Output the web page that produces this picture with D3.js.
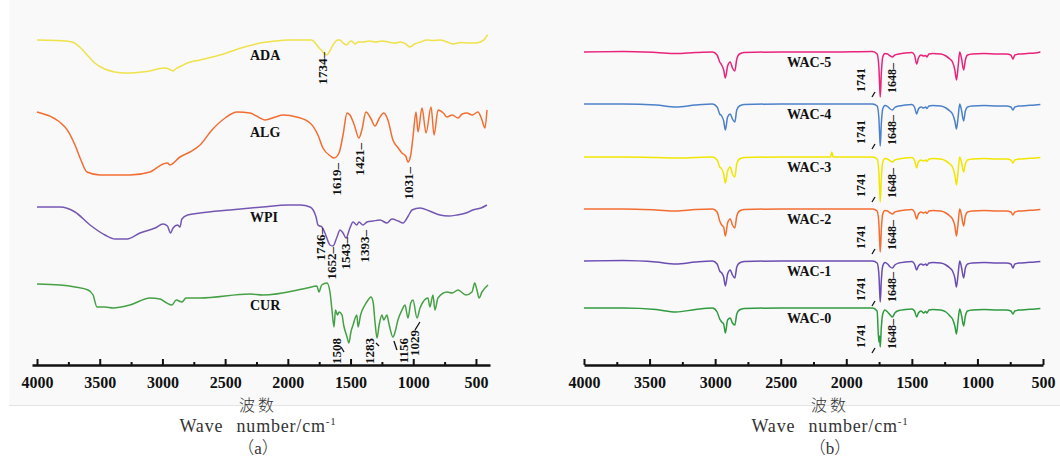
<!DOCTYPE html>
<html>
<head>
<meta charset="utf-8">
<script src="https://cdn.jsdelivr.net/npm/d3@7"></script>
<style>
  body { margin: 0; background: #fff; }
  text { font-family: "Liberation Serif", "Times New Roman", serif; }
  .lbl { font-weight: bold; fill: #111; }
  .tick text { font-weight: bold; fill: #111; }
</style>
</head>
<body>
<div id="chart"></div>
<script>
// Canvas size
let svgWidth = 1060;
let svgHeight = 462;

// ---------- DATA ----------
// panel (a): [wavenumber, transmittance (a.u., offset stacked)]
let adaData = [[4000,325],[3850,324.5],[3720,323],[3660,318],[3600,310],[3540,302],[3460,296],[3380,293],[3300,292],[3200,292.5],[3100,294],[3020,296.5],[2980,297],[2940,295.5],[2915,294],[2890,296.5],[2850,299],[2800,302],[2700,305],[2600,308],[2500,311.5],[2400,316],[2300,319.5],[2200,322.5],[2100,324],[2000,325],[1900,325],[1810,325],[1775,321],[1750,317],[1734,315],[1715,312],[1690,310],[1665,314],[1640,320],[1600,325],[1584,325],[1560,322],[1531,320],[1510,323],[1491,324],[1465,321],[1440,323],[1400,323],[1350,324],[1300,323],[1250,324],[1200,323],[1146,322],[1100,323],[1060,321],[1026,318],[990,321],[940,323],[893,325],[840,324.5],[787,325],[730,323],[683,321],[620,322.5],[560,322],[500,322],[468,323],[430,326],[415,329],[405,330]];

let algData = [[4000,253],[3777,238],[3697,220],[3650,205],[3601,193],[3498,190],[3259,190],[3099,193],[2995,201],[2960,202],[2940,200],[2860,208],[2780,213],[2700,220],[2605,235],[2500,247],[2405,253],[2302,252],[2250,249],[2182,245],[2100,248],[2039,250],[1930,248],[1823,242],[1760,230],[1720,217],[1660,209],[1632,207],[1592,212],[1560,230],[1528,252],[1505,250],[1470,240],[1433,227],[1410,235],[1377,253],[1340,247],[1305,239],[1270,247],[1234,252],[1202,245],[1162,225],[1120,217],[1090,212],[1060,209],[1042,203],[1020,210],[1002,228],[978,253],[962,233],[930,257],[898,232],[858,258],[834,230],[802,255],[760,252],[731,248],[690,250],[643,247],[610,251],[572,252],[530,250],[484,253],[452,245],[428,237],[412,255]];

let wpiData = [[4000,158],[3817,158],[3697,153],[3577,140],[3458,130],[3378,126],[3282,126],[3179,132],[3059,137],[2995,141],[2960,139],[2935,132],[2915,137],[2880,140],[2860,138],[2845,146],[2800,150],[2700,152],[2461,155],[2200,158],[2000,160],[1900,160],[1823,158],[1775,148],[1760,140],[1746,139],[1728,138],[1704,132],[1664,120],[1640,119],[1608,128],[1584,135],[1560,132],[1536,127],[1505,137],[1480,143],[1450,140],[1433,143],[1401,140],[1369,143],[1320,144],[1265,145],[1210,142],[1170,146],[1120,144],[1082,142],[1040,149],[1010,155],[946,157],[870,154],[787,150],[720,149],[652,150],[580,152],[524,155],[460,157],[412,160]];

let curData = [[4000,81],[3817,80],[3697,78],[3593,75],[3553,70],[3522,58],[3458,58],[3394,57],[3259,60],[3099,67],[3019,66],[2980,63],[2924,60],[2890,65],[2844,63],[2812,67],[2700,67],[2300,71],[2200,70],[1847,77],[1768,79],[1752,73],[1730,80],[1688,82],[1664,73],[1648,55],[1632,38],[1620,55],[1604,50],[1592,53],[1568,50],[1555,40],[1528,28],[1513,22],[1497,33],[1480,40],[1450,50],[1440,38],[1420,50],[1385,60],[1360,65],[1337,68],[1320,63],[1305,43],[1289,27],[1272,40],[1250,50],[1235,45],[1210,50],[1195,42],[1162,28],[1145,33],[1122,45],[1090,55],[1066,60],[1042,47],[1020,62],[1002,65],[970,47],[946,57],[922,63],[883,67],[867,58],[843,70],[827,55],[803,67],[731,73],[690,72],[643,75],[580,70],[532,73],[510,82],[492,75],[476,67],[452,73],[404,80]];

let seriesA = ["ADA", "ALG", "WPI", "CUR"];
let colorsA = ["#efe24a", "#f26d32", "#7557b3", "#45a046"];
let labelA = [310, 233, 148, 60];   // label heights (a.u.)

// peak annotations for panel (a)
let annoA = [
  {t: "1734–", wn: 1728, v: 313},
  {t: "1619–", wn: 1611, v: 202},
  {t: "1421–", wn: 1430, v: 222},
  {t: "1031–", wn: 1040, v: 198},
  {t: "1746–", wn: 1744, v: 137},
  {t: "1652–", wn: 1656, v: 118},
  {t: "1543–", wn: 1537, v: 128},
  {t: "1393–", wn: 1393, v: 135},
  {t: "1508", wn: 1616, v: 27},
  {t: "1283", wn: 1353, v: 27},
  {t: "1156", wn: 1078, v: 27},
  {t: "1029", wn: 990, v: 35}
];
let leadA = [[1576, 18, 1552, 13], [1297, 22, 1273, 19], [1154, 24, 1130, 15], [986, 35, 947, 43]];

// panel (b): shared wavenumber grid + change from baseline for each sample
let wacWave = [4000,3700,3450,3300,3150,3020,2985,2965,2950,2935,
  2922,2905,2885,2868,2850,2835,2815,2780,2500,2120,
  2110,2100,1800,1765,1752,1746,1741,1733,1722,1705,
  1685,1665,1648,1630,1600,1550,1500,1480,1463,1450,
  1430,1410,1395,1385,1370,1340,1280,1240,1210,1190,
  1172,1160,1148,1135,1122,1105,1092,1075,1040,950,
  850,780,745,729,715,680,620,560,520];

let wac0 = [0,0,-1.5,-4,-1.5,0,-4,-11,-14,-16,
  -25,-12,-10,-15,-17,-6,-2,-0.5,0,0,
  0,0,0,-3,-34,-28,-39,-20,-6,-2,
  -4,-7,-9,-5,-2.5,-1.5,-1,-3,-9,-5,
  -3,-5,-3.5,-5,-2,-1.5,-2,-4,-8,-11,
  -18,-26,-13,-1,-7,-18,-8,-3,-2,-1.5,
  -2,-2,-3,-6,-3,-2,-1.5,-1,-0.5];
let wac1 = [0,0.5,-1,-3,-1,0,-3,-10,-12,-16,
  -25,-13,-9,-14,-17,-6,-2,-0.5,0,0,
  0,0,0,-2,-12,-29,-41,-20,-5,-1.5,
  -3,-6,-7,-4,-2,-1,-0.5,-3,-9,-5,
  -3,-4,-3,-4.5,-2,-1.5,-2,-4,-7,-10,
  -17,-26,-14,0,-6,-17,-7,-3,-2,-1.5,
  -2,-2,-3,-7,-3,-2,-1.5,-1,-0.5];
let wac2 = [0,0,-1,-2,-0.5,0,-3,-12,-16,-18,
  -27,-14,-10,-16,-19,-7,-2,-0.5,0,0,
  0,0,0,-2,-13,-31,-43,-21,-5,-1.5,
  -2,-4,-5,-3,-2,-1,-0.5,-3,-10,-5,
  -3,-4,-3,-4.5,-2,-1.5,-2,-4,-7,-10,
  -17,-27,-15,0,-6,-17,-7,-3,-2,-1.5,
  -2,-2,-3,-6,-3,-2,-1.5,-1,-0.5];
let wac3 = [0,0,-0.5,-1,-0.5,0,-3,-10,-12,-17,
  -26,-14,-10,-17,-20,-7,-2,-0.5,0,0,
  5,0,0,-2,-14,-32,-45,-22,-5,-1.5,
  -2,-4,-5,-3,-2,-1,-0.5,-3,-11,-5,
  -3,-4,-3,-4.5,-2,-1.5,-2,-4,-7,-10,
  -18,-28,-15,0,-5,-15,-7,-3,-2,-1.5,
  -2,-2,-3,-6,-3,-2,-1.5,-1,-0.5];
let wac4 = [0,0,-1,-3,-1,0,-3,-10,-12,-17,
  -26,-13,-10,-15,-18,-6,-2,-0.5,0,0,
  0,0,0,-2,-13,-30,-42,-20,-5,-1.5,
  -2.5,-5,-6,-3.5,-2,-1,-0.5,-3,-10,-5,
  -3,-4,-3,-4.5,-2,-1.5,-2,-4,-7,-10,
  -17,-25,-14,0,-6,-17,-7,-3,-2,-1.5,
  -2,-2,-3,-6,-3,-2,-1.5,-1,-0.5];
let wac5 = [0,0.5,-0.5,-1.5,-0.5,0,-3,-10,-13,-18,
  -26,-14,-10,-16,-19,-7,-2,-0.5,0,0,
  0,0,0.5,-2,-14,-32,-45,-22,-5,-1.5,
  -2,-4,-5,-3,-2,-1,-0.5,-3,-12,-6,
  -3,-4,-3.5,-5,-2,-1.5,-2,-4,-7,-10,
  -18,-28,-16,0,-6,-18,-8,-3,-2,-1.5,
  -2,-2,-3,-7,-3,-2,-1.5,-1,0];

let seriesB = ["WAC-0", "WAC-1", "WAC-2", "WAC-3", "WAC-4", "WAC-5"];
let valuesB = [wac0, wac1, wac2, wac3, wac4, wac5];
let offsetB = [57, 104, 156, 208, 261, 313];
let colorsB = ["#2f9a3f", "#6b4db2", "#f26d32", "#f1e600", "#4c80c9", "#e8237c"];

let tickLabels = [4000, 3500, 3000, 2500, 2000, 1500, 1000, 500];
let minorTicks = [3750, 3250, 2750, 2250, 1750, 1250, 750];

// ---------- SVG ----------
let svg = d3.select("#chart")
  .append("svg")
  .attr("width", svgWidth)
  .attr("height", svgHeight);

// faint figure background
svg.append("rect")
  .attr("x", 9).attr("y", 0)
  .attr("width", svgWidth - 9).attr("height", 405)
  .attr("fill", "#f9f9f9");
svg.append("line")
  .attr("x1", 9).attr("x2", svgWidth)
  .attr("y1", 405.5).attr("y2", 405.5)
  .attr("stroke", "#e4e4e4");

let axisY = 365;

// scales
let xA = d3.scaleLinear().domain([4040, 388]).range([32, 490]);
let xB = d3.scaleLinear().domain([4000, 500]).range([584, 1043]);
let y = d3.scaleLinear().domain([0, 345]).range([axisY, 20]);

function drawAxis(xs) {
  let g = svg.append("g").attr("transform", `translate(0,${axisY})`);
  g.call(d3.axisBottom(xs).tickValues(tickLabels).tickSizeInner(-6).tickSizeOuter(0).tickPadding(11.5).tickFormat(d3.format("d")));
  g.select(".domain").attr("stroke", "#111").attr("stroke-width", 2.6);
  g.selectAll(".tick line").attr("stroke", "#111").attr("stroke-width", 2);
  g.selectAll(".tick text").style("font-size", "16px").attr("font-family", "Liberation Serif");

  let m = svg.append("g").attr("transform", `translate(0,${axisY})`);
  m.call(d3.axisBottom(xs).tickValues(minorTicks).tickSizeInner(-3).tickSizeOuter(0).tickFormat(""));
  m.select(".domain").remove();
  m.selectAll(".tick line").attr("stroke", "#111").attr("stroke-width", 2);
}
drawAxis(xA);
drawAxis(xB);

// ---------- panel (a) ----------
let lineA = d3.line()
  .x(d => xA(d[0]))
  .y(d => y(d[1]))
  .curve(d3.curveMonotoneX);

let dataA = [adaData, algData, wpiData, curData];
dataA.forEach(function(data, i) {
  svg.append("path")
    .datum(data)
    .attr("d", lineA)
    .attr("fill", "none")
    .attr("stroke", colorsA[i])
    .attr("stroke-width", 1.5);

  svg.append("text")
    .attr("class", "lbl")
    .attr("x", 250)
    .attr("y", y(labelA[i]))
    .attr("dy", "0.35em")
    .style("font-size", "14px")
    .text(seriesA[i]);
});

annoA.forEach(function(a) {
  svg.append("text")
    .attr("class", "lbl")
    .attr("transform", `translate(${xA(a.wn)},${y(a.v)}) rotate(-90)`)
    .attr("text-anchor", "end")
    .attr("dy", "0.35em")
    .style("font-size", "13px")
    .text(a.t);
});

leadA.forEach(function(l) {
  svg.append("line")
    .attr("x1", xA(l[0])).attr("y1", y(l[1]))
    .attr("x2", xA(l[2])).attr("y2", y(l[3]))
    .attr("stroke", "#111")
    .attr("stroke-width", 1.3);
});

// ---------- panel (b) ----------
let lineB = d3.line()
  .x(d => xB(d[0]))
  .y(d => y(d[1]))
  .curve(d3.curveMonotoneX);

valuesB.forEach(function(vals, i) {
  let pts = wacWave.map((w, j) => [w, offsetB[i] + vals[j]]);
  svg.append("path")
    .datum(pts)
    .attr("d", lineB)
    .attr("fill", "none")
    .attr("stroke", colorsB[i])
    .attr("stroke-width", 1.5);

  svg.append("text")
    .attr("class", "lbl")
    .attr("x", 787)
    .attr("y", y(offsetB[i] - 10))
    .attr("dy", "0.35em")
    .style("font-size", "14px")
    .text(seriesB[i]);

  // 1741 and 1648 marks
  svg.append("text")
    .attr("class", "lbl")
    .attr("transform", `translate(${xB(1888)},${y(offsetB[i] - 16)}) rotate(-90)`)
    .attr("text-anchor", "end")
    .attr("dy", "0.35em")
    .style("font-size", "12px")
    .text("1741");
  svg.append("text")
    .attr("class", "lbl")
    .attr("transform", `translate(${xB(1655)},${y(offsetB[i] - 11)}) rotate(-90)`)
    .attr("text-anchor", "end")
    .attr("dy", "0.35em")
    .style("font-size", "12px")
    .text("1648–");
  svg.append("line")
    .attr("x1", xB(1804)).attr("y1", y(offsetB[i] - 45))
    .attr("x2", xB(1781)).attr("y2", y(offsetB[i] - 40))
    .attr("stroke", "#111")
    .attr("stroke-width", 1.3);
});

// ---------- axis titles ----------
function axisTitle(cx, tag) {
  svg.append("text")
    .attr("x", cx).attr("y", 405)
    .attr("text-anchor", "middle")
    .attr("dy", "0.35em")
    .style("font-family", "'Noto Sans CJK SC'")
    .style("font-size", "16px")
    .style("letter-spacing", "3px")
    .style("font-weight", 300)
    .attr("fill", "#333")
    .text("波数");

  let t = svg.append("text")
    .attr("x", cx).attr("y", 432)
    .attr("text-anchor", "middle")
    .style("font-family", "'Liberation Serif'")
    .style("font-size", "18px")
    .style("letter-spacing", "0.8px")
    .style("word-spacing", "8px")
    .attr("fill", "#333");
  t.append("tspan").text("Wave number/cm");
  t.append("tspan").attr("dy", -7).style("font-size", "11px").text("-1");

  let p = svg.append("text")
    .attr("x", cx).attr("y", 448)
    .attr("text-anchor", "middle")
    .attr("dy", "0.35em")
    .style("font-size", "17px")
    .attr("fill", "#333");
  p.append("tspan").style("font-family", "'Noto Sans CJK SC'").style("font-weight", 300).text("（");
  p.append("tspan").style("font-family", "'Liberation Serif'").text(tag);
  p.append("tspan").style("font-family", "'Noto Sans CJK SC'").style("font-weight", 300).text("）");
}
axisTitle(258, "a");
axisTitle(830, "b");
</script>
</body>
</html>
